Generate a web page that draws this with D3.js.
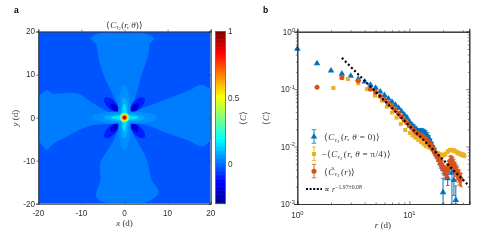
<!DOCTYPE html>
<html>
<head>
<meta charset="utf-8">
<script src="https://cdn.jsdelivr.net/npm/d3@7"></script>
<style>
html, body { margin: 0; padding: 0; background: #fff; }
svg { display: block; filter: blur(0.45px); }
text { font-family: "Liberation Sans", sans-serif; font-size: 8.2px; fill: #333; }
.math, .math text { font-family: "Liberation Serif", serif; font-style: italic; }
.upright { font-style: normal; }
</style>
</head>
<body>
<script>
// panel a: filled contours, values of <C>
var mapTicks = [-20, -10, 0, 10, 20];
var barTicks = [0, 0.5, 1];
var barRange = [-0.3, 1];
var backgroundLevel = -0.03;
var crossLevel = 0.022;
var crossContour = [[-1.6,1.8],[-2.6,5],[-4.9,10],[-5.8,13],[-6.2,15],[-6.6,17],[-7.8,18.4],[-6.5,19.3],[-4.5,19.7],[0,19.6],
    [4.5,19.6],[6.9,18.4],[5.8,17],[5.6,15],[4,10],[2.6,5],[1.6,1.8],[4,2.2],[7.2,3.3],[11.4,4.9],[15.2,6.4],[17.5,7.6],[19,7.2],[21,5.5],
    [21,-4.5],[20,-5.2],[18.3,-6.7],[14.5,-5.2],[9.8,-3.6],[6,-2],[1.6,-1.6],[2,-3.6],[5.2,-9.8],[6.3,-14.5],[7.9,-17.4],[5.2,-19.6],
    [0,-19.8],[-4.9,-19.6],[-6.6,-18.3],[-5.6,-14.5],[-5.6,-10.6],[-2.5,-5.2],[-1.6,-1.8],[-3.6,-1.5],[-8.7,-2.1],[-13.4,-4.4],[-16.5,-6.1],
    [-18,-7.4],[-20,-5.2],[-21,-4],[-21,4],[-20,4.9],[-18,6.3],[-16.5,5.6],[-11,5.6],[-7.2,3.3],[-3.3,1.3]];
var diagCentres = [[3,3],[-3,3],[3,-3],[-3,-3]];
var diagInner = [[2.3,2.3],[-2.3,2.3],[2.3,-2.3],[-2.3,-2.3]];
var diagLevels = [-0.1, -0.2];
var armLevels = [0.045, 0.08, 0.155];
var armLong = [7.6, 4.8, 3.2];
var armShort = [1.5, 0.95, 0.55];
var coreLevels = [0.28, 0.42, 0.58, 0.75, 0.9, 1];
var coreRadii = [1.15, 0.9, 0.72, 0.55, 0.38, 0.18];

// panel b: correlation against r
var blueR = [1,1.5,2,2.5,3,3.5,4,4.5,5,5.5,6,6.5,7,7.5,8,8.5,9,9.5,10,10.5,11,11.5,12,12.5,13,13.5,14,14.5,15,15.5,16,16.5,17,17.5,18,18.5,19,19.5,20,21,22,23,24,25,26];
var blueC = [0.5,0.28,0.21,0.185,0.17,0.15,0.135,0.118,0.105,0.09,0.078,0.068,0.06,0.053,0.047,0.041,0.036,0.032,0.027,0.024,0.022,0.02,0.0185,0.0185,0.0185,0.018,0.017,0.0155,0.014,0.012,0.0105,0.0092,0.0082,0.0072,0.0065,0.0058,0.0052,0.0048,0.0016,0.0034,0.0028,0.0042,0.0035,0.0026,0.00117];
var blueErr = [0.01,0.005,0.004,0.003,0.003,0.003,0.003,0.003,0.003,0.003,0.002,0.002,0.002,0.002,0.002,0.002,0.002,0.002,0.002,0.002,0.002,0.002,0.002,0.002,0.002,0.002,0.002,0.002,0.0015,0.0015,0.0015,0.0012,0.0012,0.001,0.001,0.001,0.001,0.001,0.0012,0.0007,0.0007,0.0009,0.0028,0.0012,0.0009];
var yellowR = [2.1,2.83,3.5,4.2,4.94,5.7,6.3,7,7.7,8.4,9.2,10.1,10.7,11.3,12,12.7,13.4,14,15,16,17,18,19,20,21,22,23,24,25,26,27,28,29,30,31];
var yellowC = [0.105,0.15,0.127,0.1,0.077,0.063,0.0495,0.0393,0.032,0.0248,0.0195,0.0172,0.0158,0.0145,0.0133,0.0122,0.0112,0.0103,0.0098,0.0092,0.0082,0.0076,0.0072,0.007,0.0074,0.0082,0.0087,0.0087,0.0085,0.0082,0.0078,0.0076,0.0073,0.0072,0.007];
var yellowErr = [0.002,0.002,0.002,0.002,0.002,0.001,0.001,0.001,0.001,0.001,0.001,0.001,0.001,0.001,0.001,0.001,0.0008,0.0008,0.0008,0.0008,0.0007,0.0007,0.0006,0.0006,0.0006,0.0006,0.0006,0.0006,0.0006,0.0006,0.0006,0.0006,0.0006,0.0006,0.0006];
var orangeR = [1.5,2.5,3.5,4.5,5,5.5,6,6.5,7,7.5,8,8.5,9,9.5,10,10.5,11,11.5,12,12.5,13,13.5,14,14.5,15,15.5,16,16.5,17,17.5,18,18.5,19,19.5,20,20.5,21,21.5,22,22.5,23,23.5,24,24.5,25,25.5,26,26.5,27,27.5,28,28.5,29];
var orangeC = [0.108,0.158,0.14,0.1,0.088,0.075,0.066,0.057,0.05,0.044,0.038,0.033,0.029,0.026,0.023,0.021,0.019,0.0175,0.0165,0.016,0.015,0.0145,0.0135,0.0125,0.0115,0.0105,0.0095,0.0085,0.0078,0.007,0.0065,0.0058,0.0052,0.0048,0.0042,0.0039,0.0037,0.0036,0.004,0.0047,0.0055,0.0058,0.0055,0.0052,0.0048,0.0043,0.004,0.0037,0.0035,0.0032,0.003,0.0028,0.0027];
var orangeErr = [0.003,0.004,0.003,0.003,0.002,0.002,0.002,0.002,0.001,0.001,0.001,0.001,0.001,0.001,0.001,0.001,0.001,0.001,0.001,0.001,0.001,0.001,0.001,0.001,0.001,0.001,0.001,0.001,0.0008,0.0008,0.0008,0.0008,0.0008,0.0008,0.0008,0.0008,0.0008,0.0008,0.001,0.001,0.0012,0.0012,0.0012,0.0012,0.0012,0.0011,0.001,0.001,0.0009,0.0008,0.0008,0.0007,0.0007];
var fitR = [2.5, 34.3];
var fitC = [0.35, 0.00205];
var logTicksMajorY = [0.001, 0.01, 0.1, 1];
var logTicksMinorY = [0.002,0.003,0.004,0.005,0.006,0.007,0.008,0.009,0.02,0.03,0.04,0.05,0.06,0.07,0.08,0.09,0.2,0.3,0.4,0.5,0.6,0.7,0.8,0.9];
var logTicksMajorX = [1, 10];
var logTicksMinorX = [2,3,4,5,6,7,8,9,20,30];

var BLUE = "#0072BD", YELLOW = "#EDB120", ORANGE = "#D95319", AXIS = "#333";

var svg = d3.select("body").append("svg").attr("width", 479).attr("height", 240);

var jet = d3.scaleLinear()
    .domain([0, 0.125, 0.375, 0.625, 0.875, 1])
    .range(["#00008f", "#0000ff", "#00ffff", "#ffff00", "#ff0000", "#800000"])
    .clamp(true);
function levelColor(v) { return jet((v - barRange[0]) / (barRange[1] - barRange[0])); }

// ---- panel a
var x = d3.scaleLinear().domain([-20, 20]).range([38.3, 210.7]);
var y = d3.scaleLinear().domain([-20, 20]).range([203.7, 31.5]);
var unit = x(1) - x(0);

svg.append("clipPath").attr("id", "mapClip").append("rect")
    .attr("x", x(-20)).attr("y", y(20)).attr("width", x(20) - x(-20)).attr("height", y(-20) - y(20));

var map = svg.append("g").attr("clip-path", "url(#mapClip)");
map.append("rect")
    .attr("x", x(-20)).attr("y", y(20)).attr("width", x(20) - x(-20)).attr("height", y(-20) - y(20))
    .attr("fill", levelColor(backgroundLevel));

var contourLine = d3.line()
    .x(function (d) { return x(d[0]); })
    .y(function (d) { return y(d[1]); })
    .curve(d3.curveCatmullRomClosed.alpha(0.5));

map.append("path").attr("d", contourLine(crossContour)).attr("fill", levelColor(crossLevel));

function diagLobes(centres, level, rLong, rShort) {
    map.selectAll(null).data(centres).enter().append("ellipse")
        .attr("rx", rLong * unit).attr("ry", rShort * unit)
        .attr("transform", function (d) {
            var a = d[0] * d[1] > 0 ? -45 : 45;
            return "translate(" + x(d[0]) + "," + y(d[1]) + ") rotate(" + a + ")";
        })
        .attr("fill", levelColor(level));
}
diagLobes(diagCentres, diagLevels[0], 2.3, 1.05);
diagLobes(diagInner, diagLevels[1], 1.2, 0.65);

armLevels.forEach(function (lv, i) {
    map.append("ellipse").attr("cx", x(0)).attr("cy", y(0))
        .attr("rx", armShort[i] * unit).attr("ry", armLong[i] * unit).attr("fill", levelColor(lv));
    map.append("ellipse").attr("cx", x(0)).attr("cy", y(0))
        .attr("rx", armLong[i] * unit).attr("ry", armShort[i] * unit).attr("fill", levelColor(lv));
});

map.selectAll("circle.core").data(coreLevels).enter().append("circle")
    .attr("class", "core")
    .attr("cx", x(0)).attr("cy", y(0))
    .attr("r", function (d, i) { return coreRadii[i] * unit; })
    .attr("fill", function (d) { return levelColor(d); });

function boxAxes(xs, ys, xVals, yVals, size) {
    var bot = ys.range()[0], top = ys.range()[1], lft = xs.range()[0], rgt = xs.range()[1];
    [[d3.axisBottom(xs), bot, 0, -size], [d3.axisTop(xs), top, 0, size]].forEach(function (a) {
        var g = svg.append("g").attr("transform", "translate(0," + a[1] + ")")
            .call(a[0].tickValues(xVals).tickSize(a[3]).tickFormat(""));
        g.selectAll("line").attr("stroke", AXIS).attr("stroke-width", 0.6);
        g.select(".domain").attr("stroke", AXIS).attr("stroke-width", 1);
    });
    [[d3.axisLeft(ys), lft, size], [d3.axisRight(ys), rgt, -size]].forEach(function (a) {
        var g = svg.append("g").attr("transform", "translate(" + a[1] + ",0)")
            .call(a[0].tickValues(yVals).tickSize(a[2]).tickFormat(""));
        g.selectAll("line").attr("stroke", AXIS).attr("stroke-width", 0.6);
        g.select(".domain").attr("stroke", AXIS).attr("stroke-width", 1);
    });
}
boxAxes(x, y, mapTicks, mapTicks, 2);

svg.selectAll("text.mapx").data(mapTicks).enter().append("text")
    .attr("class", "mapx").attr("x", x).attr("y", 216).attr("text-anchor", "middle").text(function (d) { return d; });
svg.selectAll("text.mapy").data(mapTicks).enter().append("text")
    .attr("class", "mapy").attr("x", 35).attr("y", function (d) { return y(d) + 2.9; }).attr("text-anchor", "end").text(function (d) { return d; });

// axis labels written as math text
function mathLabel(px, py, rotate, size) {
    var t = svg.append("text").attr("class", "math").attr("text-anchor", "middle").style("font-size", size + "px");
    if (rotate) t.attr("transform", "translate(" + px + "," + py + ") rotate(-90)");
    else t.attr("x", px).attr("y", py);
    return t;
}
function addRun(t, str, upright) { return t.append("tspan").attr("class", upright ? "upright" : null).text(str); }
function addSub(t) {
    t.append("tspan").attr("dy", 1.8).style("font-size", "6px").text("τ");
    t.append("tspan").attr("dy", 1).style("font-size", "4.4px").attr("class", "upright").text("2");
    t.append("tspan").attr("dy", -2.8).text("\u200a");
}
function addCSub(t) { addRun(t, "C"); addSub(t); }

var title = mathLabel(124.5, 27.5, false, 9);
addRun(title, "⟨", true); addCSub(title); addRun(title, "(", true); addRun(title, "r, θ"); addRun(title, ")⟩", true);

var xl = mathLabel(124.5, 226, false, 9); addRun(xl, "x"); addRun(xl, " (d)", true);
var yl = mathLabel(18, 118, true, 9); addRun(yl, "y"); addRun(yl, " (d)", true);

// colorbar
var barY = d3.scaleLinear().domain(barRange).range([203.7, 31.5]);
var barLevels = d3.range(0, 130).map(function (i) { return barRange[0] + i * 0.01; });
svg.selectAll("rect.cbar").data(barLevels).enter().append("rect")
    .attr("class", "cbar").attr("x", 215.5).attr("width", 10)
    .attr("y", function (d) { return barY(d + 0.01) - 0.3; })
    .attr("height", function (d) { return barY(d) - barY(d + 0.01) + 0.6; })
    .attr("fill", function (d) { return levelColor(d + 0.005); });
svg.append("rect").attr("x", 215.5).attr("y", 31.5).attr("width", 10).attr("height", 172.2)
    .attr("fill", "none").attr("stroke", "#666").attr("stroke-width", 0.8);
svg.selectAll("text.cb").data(barTicks).enter().append("text")
    .attr("class", "cb").attr("x", 228).attr("y", function (d) { return barY(d) + 2.9; }).text(function (d) { return d; });
var cl = mathLabel(246, 118, true, 9); addRun(cl, "⟨", true); addRun(cl, "C"); addRun(cl, "⟩", true);

// ---- panel b
var rx = d3.scaleLog().domain([1, 34.3]).range([297.3, 469.3]);
var ry = d3.scaleLog().domain([0.001, 1]).range([204, 31.7]);

function drawSeries(rs, cs, es, color, symbolType, size) {
    var g = svg.append("g");
    var yMin = ry.domain()[0];
    g.selectAll("line.err").data(rs).enter().append("line")
        .attr("x1", function (d) { return rx(d); }).attr("x2", function (d) { return rx(d); })
        .attr("y1", function (d, i) { return ry(Math.max(cs[i] - es[i], yMin)); })
        .attr("y2", function (d, i) { return ry(cs[i] + es[i]); })
        .attr("stroke", color).attr("stroke-width", 1);
    var cap = function (sign) {
        g.selectAll(null).data(rs).enter().append("line")
            .attr("x1", function (d) { return rx(d) - 1.8; }).attr("x2", function (d) { return rx(d) + 1.8; })
            .attr("y1", function (d, i) { return ry(Math.max(cs[i] + sign * es[i], yMin)); })
            .attr("y2", function (d, i) { return ry(Math.max(cs[i] + sign * es[i], yMin)); })
            .attr("stroke", color).attr("stroke-width", 0.8);
    };
    cap(-1); cap(1);
    g.selectAll("path").data(rs).enter().append("path")
        .attr("d", d3.symbol().type(symbolType).size(size))
        .attr("transform", function (d, i) { return "translate(" + rx(d) + "," + ry(cs[i]) + ")"; })
        .attr("fill", color);
}
drawSeries(blueR, blueC, blueErr, BLUE, d3.symbolTriangle, 18);
drawSeries(yellowR, yellowC, yellowErr, YELLOW, d3.symbolSquare, 16);
drawSeries(orangeR, orangeC, orangeErr, ORANGE, d3.symbolCircle, 20);

var fitLine = d3.line().x(function (d) { return rx(d); }).y(function (d, i) { return ry(fitC[i]); });
svg.append("path").attr("d", fitLine(fitR)).attr("fill", "none")
    .attr("stroke", "#000").attr("stroke-width", 2.2).attr("stroke-dasharray", "2 2.4");

boxAxes(rx, ry, logTicksMinorX, logTicksMinorY, 1.5);
boxAxes(rx, ry, logTicksMajorX, logTicksMajorY, 3);

function powerLabel(sel, v) {
    var e = Math.round(Math.log10(v));
    sel.append("tspan").text("10");
    sel.append("tspan").attr("dy", -3.2).style("font-size", "5.8px").text(e);
}
svg.selectAll("text.rx").data(logTicksMajorX).enter().append("text")
    .attr("class", "rx").attr("x", function (d) { return rx(d); }).attr("y", 218).attr("text-anchor", "middle")
    .each(function (d) { powerLabel(d3.select(this), d); });
svg.selectAll("text.ry").data(logTicksMajorY).enter().append("text")
    .attr("class", "ry").attr("x", 295).attr("y", function (d) { return ry(d) + 3; }).attr("text-anchor", "end")
    .each(function (d) { powerLabel(d3.select(this), d); });

var rl = mathLabel(383, 228, false, 9); addRun(rl, "r"); addRun(rl, " (d)", true);
var ryl = mathLabel(269, 118, true, 9); addRun(ryl, "⟨", true); addRun(ryl, "C"); addRun(ryl, "⟩", true);

// legend
function legendRow(py, color, symbolType, size) {
    var g = svg.append("g");
    g.append("line").attr("x1", 314).attr("x2", 314).attr("y1", py - 7).attr("y2", py + 6.5).attr("stroke", color).attr("stroke-width", 0.9);
    [-7, 6.5].forEach(function (o) {
        g.append("line").attr("x1", 311.7).attr("x2", 316.3).attr("y1", py + o).attr("y2", py + o).attr("stroke", color).attr("stroke-width", 0.8);
    });
    g.append("path").attr("d", d3.symbol().type(symbolType).size(size)).attr("transform", "translate(314," + py + ")").attr("fill", color);
}
legendRow(136.7, BLUE, d3.symbolTriangle, 18);
legendRow(154, YELLOW, d3.symbolSquare, 16);
legendRow(171.3, ORANGE, d3.symbolCircle, 20);

var l1 = svg.append("text").attr("class", "math").attr("x", 324).attr("y", 140).style("font-size", "9px").style("letter-spacing", "0.35px");
addRun(l1, "⟨", true); addCSub(l1); addRun(l1, "(", true); addRun(l1, "r, θ"); addRun(l1, " = 0)⟩", true);
var l2 = svg.append("text").attr("class", "math").attr("x", 321.5).attr("y", 157.3).style("font-size", "9px").style("letter-spacing", "0.35px");
addRun(l2, "−⟨", true); addCSub(l2); addRun(l2, "(", true); addRun(l2, "r, θ"); addRun(l2, " = π/4)⟩", true);
var l3 = svg.append("text").attr("class", "math").attr("x", 324).attr("y", 174.6).style("font-size", "9px").style("letter-spacing", "0.35px");
addRun(l3, "⟨", true); addRun(l3, "C̃"); addSub(l3);
addRun(l3, "(", true); addRun(l3, "r"); addRun(l3, ")⟩", true);

svg.append("line").attr("x1", 306).attr("x2", 322).attr("y1", 189).attr("y2", 189)
    .attr("stroke", "#000").attr("stroke-width", 2).attr("stroke-dasharray", "2 1.6");
var l4 = svg.append("text").attr("class", "math").attr("x", 324).attr("y", 191.5).style("font-size", "8px");
addRun(l4, "∝ ", true); addRun(l4, "r");
l4.append("tspan").attr("dy", -3).style("font-size", "5.8px").attr("class", "upright").text("−1.97±0.08");

// panel letters
svg.append("text").attr("x", 14).attr("y", 13).style("font-size", "8.5px").style("font-weight", "bold").style("fill", "#000").text("a");
svg.append("text").attr("x", 263).attr("y", 13).style("font-size", "8.5px").style("font-weight", "bold").style("fill", "#000").text("b");
</script>
</body>
</html>
